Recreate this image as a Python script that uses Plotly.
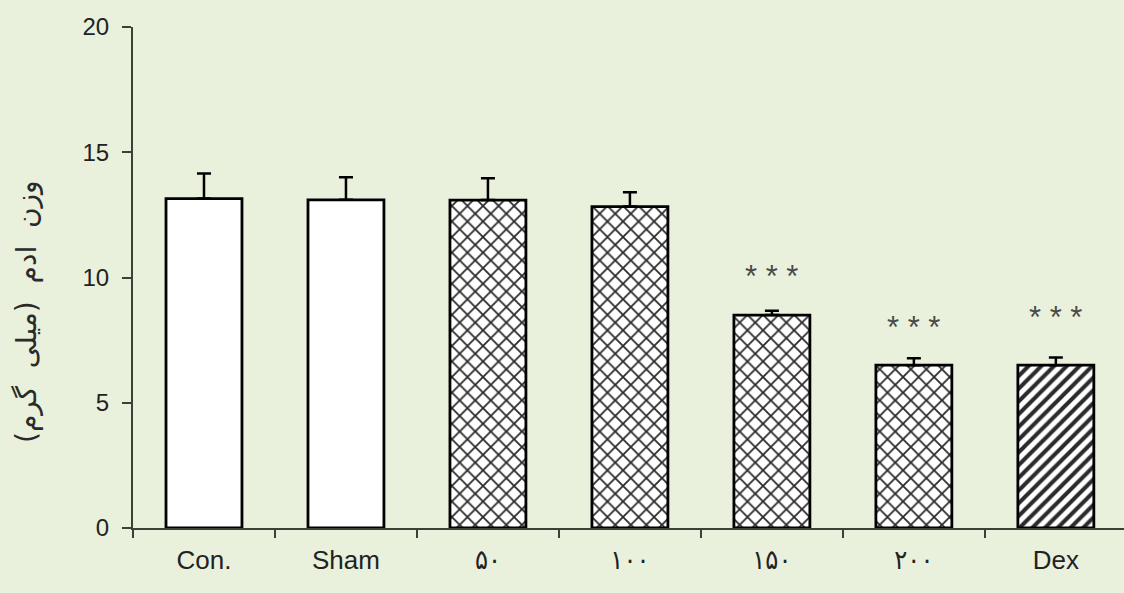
import plotly.graph_objects as go

categories = ["Con.", "Sham", "۵۰", "۱۰۰", "۱۵۰", "۲۰۰", "Dex"]
means = [13.15, 13.1, 13.09, 12.83, 8.5, 6.5, 6.5]
sem = [1.0, 0.9, 0.87, 0.57, 0.17, 0.28, 0.31]
patterns = ["", "", "x", "x", "x", "x", "/"]
star_labels = ["", "", "", "", "* * *", "* * *", "* * *"]
star_y = [None, None, None, None, 10.3, 8.3, 8.7]

BG = "#E9F0DC"
AX = "#3a4236"

ticktext = [
    c if c.isascii() else
    f"<span style='font-size:27px;font-family:\"DejaVu Sans Condensed\",\"DejaVu Sans\"'>{c}</span>"
    for c in categories
]

fig = go.Figure()
fig.add_trace(go.Bar(
    x=categories, y=means,
    width=0.535,
    marker=dict(
        color="white",
        line=dict(color="black", width=2.8),
        pattern=dict(shape=patterns, fgcolor="#2b2b2b", bgcolor="white",
                     fgopacity=1,
                     size=[11, 11, 11, 11, 11, 11, 9],
                     solidity=[0.3, 0.3, 0.3, 0.3, 0.3, 0.3, 0.45]),
    ),
    error_y=dict(type="data", symmetric=False, array=sem,
                 arrayminus=[0] * len(sem), color="black",
                 thickness=2.5, width=7),
    showlegend=False,
))

for c, s, yv in zip(categories, star_labels, star_y):
    if s:
        fig.add_annotation(x=c, y=yv, text=s, showarrow=False,
                           xref="x", yref="y", yanchor="middle", yshift=-7,
                           font=dict(family="Liberation Sans", size=31, color="#4a4a4a"))

fig.add_annotation(xref="paper", yref="paper", x=-0.108, y=0.433,
                   text="وزن\u00a0\u00a0ادم\u00a0\u00a0(میلی\u00a0\u00a0گرم)",
                   textangle=-90, showarrow=False,
                   xanchor="center", yanchor="middle",
                   font=dict(family="DejaVu Sans", size=28, color="#2a2a2a"))

fig.update_layout(
    width=1124, height=593,
    paper_bgcolor=BG, plot_bgcolor=BG,
    margin=dict(l=133, r=0, t=27, b=65),
    font=dict(family="Liberation Sans, DejaVu Sans", size=24, color="#222"),
)
fig.update_xaxes(
    range=[-0.5, 6.48], showgrid=False, zeroline=False,
    showline=True, linecolor=AX, linewidth=2,
    ticks="outside", tickson="boundaries", ticklen=8,
    tickcolor=AX, tickwidth=2,
    tickmode="array", tickvals=categories, ticktext=ticktext,
    tickfont=dict(size=26), ticklabelstandoff=8,
)
fig.update_yaxes(
    range=[0, 20], tickvals=[0, 5, 10, 15, 20], showgrid=False, zeroline=False,
    showline=True, linecolor=AX, linewidth=2,
    ticks="outside", ticklen=9, tickcolor=AX, tickwidth=2,
    tickfont=dict(size=24), ticklabelstandoff=8,
)

fig.write_html(
    "out.html",
    config={"displayModeBar": False},
    post_script="document.body.style.margin='0';document.body.style.background='#E9F0DC';",
)
